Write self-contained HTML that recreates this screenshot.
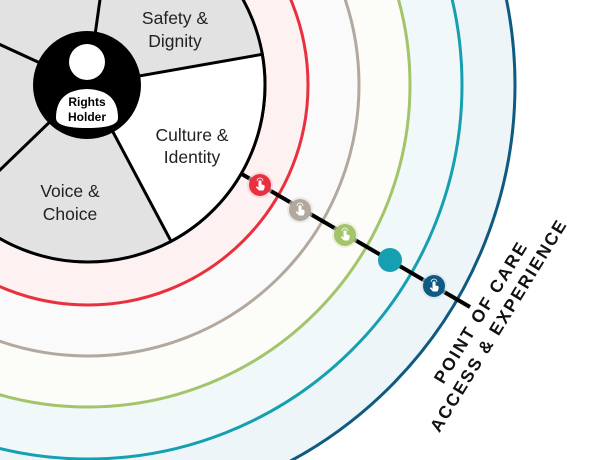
<!DOCTYPE html>
<html><head><meta charset="utf-8"><style>
html,body{margin:0;padding:0;background:#fff;width:600px;height:460px;overflow:hidden;}
svg{display:block;overflow:hidden;}
text{font-family:"Liberation Sans",sans-serif;}
</style></head><body>
<svg width="600" height="460" viewBox="0 0 600 460" xmlns="http://www.w3.org/2000/svg">
<defs>
<clipPath id="c"><rect x="0" y="0" width="600" height="460"/></clipPath>
<g id="hand"><path d="M-1.5,3 L-1.5,-4 Q0,-5.5 1.5,-4 L1.5,-0.5 L4,0 Q5,0.5 4.5,3 L3.5,5.5 L-1,5.5 L-4,2.5 Q-4,1 -2.5,1.5 Z" fill="#fff"/><path d="M-3,-4 A3,3 0 0 1 3,-4" stroke="#fff" stroke-width="0.8" fill="none"/></g>
</defs>
<g clip-path="url(#c)">
<circle cx="88" cy="85" r="427" fill="#eef5f9"/>
<circle cx="88" cy="85" r="374" fill="#f0f8fa"/>
<circle cx="88" cy="85" r="322" fill="#fcfcf8"/>
<circle cx="88" cy="85" r="271" fill="#fafafa"/>
<circle cx="88" cy="85" r="220" fill="#fdf1f1"/>
<g fill="none" stroke-width="3">
<circle cx="88" cy="85" r="427" stroke="#0f5a80"/>
<circle cx="88" cy="85" r="374" stroke="#169fb1"/>
<circle cx="88" cy="85" r="322" stroke="#a3c46a"/>
<circle cx="88" cy="85" r="271" stroke="#b3a89d"/>
<circle cx="88" cy="85" r="220" stroke="#e8303f"/>
</g>
<circle cx="88" cy="85" r="177" fill="#e2e2e2" stroke="#000" stroke-width="3"/>
<path d="M88,85 L262.3,54.3 A177,177 0 0 1 171.1,241.3 Z" fill="#fff" stroke="#000" stroke-width="3"/>
<g stroke="#000" stroke-width="3">
<line x1="88" y1="85" x2="112.6" y2="-90.3"/>
<line x1="88" y1="85" x2="-39.4" y2="208"/>
<line x1="88" y1="85" x2="-73" y2="11"/>
</g>
<g font-size="17.5" fill="#222" text-anchor="middle">
<text x="175" y="24">Safety &amp;</text>
<text x="175" y="47">Dignity</text>
<text x="192" y="141">Culture &amp;</text>
<text x="192" y="163">Identity</text>
<text x="70" y="197">Voice &amp;</text>
<text x="70" y="220">Choice</text>
</g>
<circle cx="87" cy="85" r="54" fill="#000"/>
<circle cx="87" cy="62" r="18" fill="#fff"/>
<path d="M56,118 Q56,90 87,89 Q118,90 118,118 Q118,128 87,128 Q56,128 56,118 Z" fill="#fff"/>
<g font-size="12" font-weight="bold" fill="#000" text-anchor="middle">
<text x="87" y="106">Rights</text>
<text x="87" y="121">Holder</text>
</g>
<line x1="240" y1="173" x2="470" y2="307" stroke="#000" stroke-width="4"/>
<g>
<circle cx="260" cy="185" r="13" fill="#f6c9cd" opacity="0.6"/><circle cx="260" cy="185" r="11" fill="#e8303f"/><use href="#hand" x="260" y="185"/>
<circle cx="300" cy="210" r="13" fill="#ddd" opacity="0.6"/><circle cx="300" cy="210" r="11" fill="#b3a89d"/><use href="#hand" x="300" y="210"/>
<circle cx="345" cy="235" r="13" fill="#dfe9cc" opacity="0.6"/><circle cx="345" cy="235" r="11" fill="#a3c46a"/><use href="#hand" x="345" y="235"/>
<circle cx="390" cy="260" r="12" fill="#169fb1"/>
<circle cx="434" cy="286" r="13" fill="#cfe0ea" opacity="0.6"/><circle cx="434" cy="286" r="11" fill="#0f5a80"/><use href="#hand" x="434" y="286"/>
</g>
<g transform="translate(490,320) rotate(-58.5)" font-size="17.5" font-weight="bold" fill="#111" text-anchor="middle" letter-spacing="2">
<text x="2" y="-6">POINT OF CARE</text>
<text x="0" y="16">ACCESS &amp; EXPERIENCE</text>
</g>
</g>
</svg>
</body></html>
